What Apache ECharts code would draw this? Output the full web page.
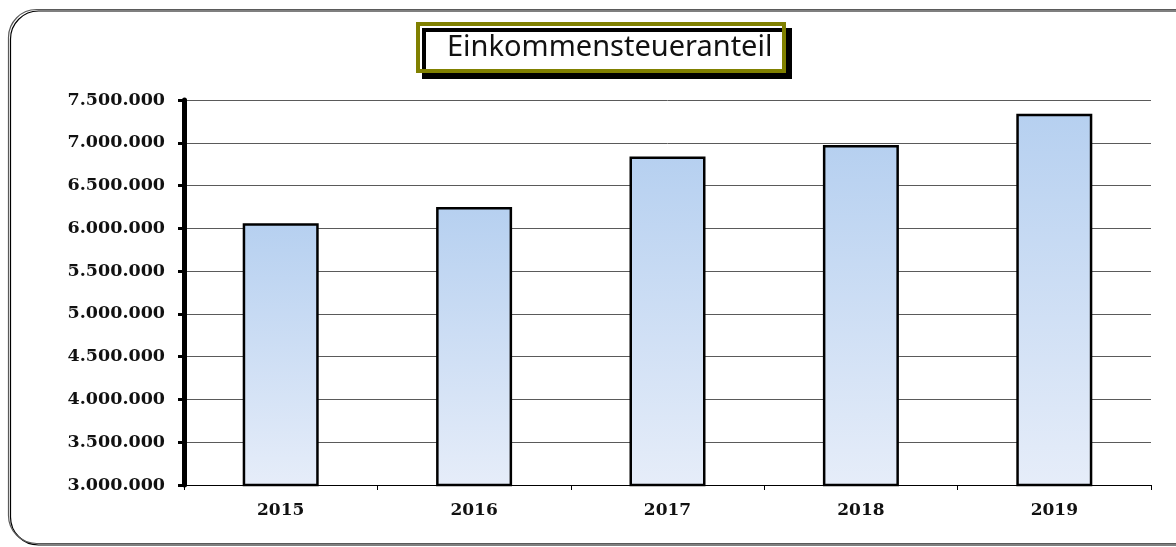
<!DOCTYPE html>
<html>
<head>
<meta charset="utf-8">
<script src="https://cdn.jsdelivr.net/npm/echarts@6/dist/echarts.min.js"></script>
<style>
    html, body { margin: 0; padding: 0; background: #fff; }
    #echarts { width: 1176px; height: 547px; }
</style>
</head>
<body>
<div id="echarts"></div>
<script>
// Werte
var years = ['2015', '2016', '2017', '2018', '2019'];
var anteil = [6060000, 6250000, 6840000, 6975000, 7340000];
var yMin = 3000000;
var yMax = 7500000;
var yStep = 500000;

function punkte(v) {
    return String(v).replace(/\B(?=(\d{3})+(?!\d))/g, '.');
}

var chartDom = document.getElementById('echarts');
var myChart = echarts.init(chartDom);
var serif = '"DejaVu Serif", "Liberation Serif", serif';

var option = {
    animation: false,
    grid: {
        top: 100,
        bottom: 62,
        left: 184,
        right: 25
    },
    xAxis: {
        type: 'category',
        data: years,
        axisLine: { lineStyle: { color: '#000', width: 1 } },
        axisTick: { show: true, length: 5, lineStyle: { color: '#000' } },
        axisLabel: {
            margin: 17,
            color: '#111',
            fontFamily: serif,
            fontWeight: 'bold',
            fontSize: 17
        }
    },
    yAxis: {
        type: 'value',
        min: yMin,
        max: yMax,
        interval: yStep,
        axisLine: { show: true, lineStyle: { color: '#000', width: 5 } },
        axisTick: { show: true, length: 6, lineStyle: { color: '#000', width: 3 } },
        splitLine: { lineStyle: { color: '#5a5a5a', width: 1 } },
        axisLabel: {
            margin: 19,
            color: '#111',
            fontFamily: serif,
            fontWeight: 'bold',
            fontSize: 17.5,
            formatter: punkte
        }
    },
    series: [
        {
            type: 'bar',
            data: anteil,
            barWidth: 76,
            itemStyle: {
                borderColor: '#000',
                borderWidth: 2.5,
                color: new echarts.graphic.LinearGradient(0, 0, 0, 1, [
                    { offset: 0, color: '#b6d0f0' },
                    { offset: 1, color: '#e6edf9' }
                ])
            }
        }
    ],
    graphic: {
        elements: [
            {
                type: 'rect',
                shape: { x: 8.5, y: 9.5, width: 1200, height: 534, r: 28 },
                style: {
                    fill: 'none',
                    stroke: '#5a5a5a',
                    lineWidth: 1.2,
                    shadowColor: '#000',
                    shadowOffsetX: 2,
                    shadowOffsetY: 1.5,
                    shadowBlur: 0
                },
                z: -10
            },
            {
                type: 'rect',
                shape: { x: 418, y: 24, width: 366, height: 47 },
                style: {
                    fill: '#fff',
                    stroke: '#808000',
                    lineWidth: 4,
                    shadowColor: '#000',
                    shadowOffsetX: 6,
                    shadowOffsetY: 6,
                    shadowBlur: 0
                },
                z: 10
            },
            {
                type: 'text',
                x: 447,
                y: 48,
                style: {
                    text: 'Einkommensteueranteil',
                    font: '29px "Noto Sans", sans-serif',
                    fill: '#111',
                    verticalAlign: 'middle'
                },
                z: 11
            }
        ]
    }
};
myChart.setOption(option);
</script>
</body>
</html>
